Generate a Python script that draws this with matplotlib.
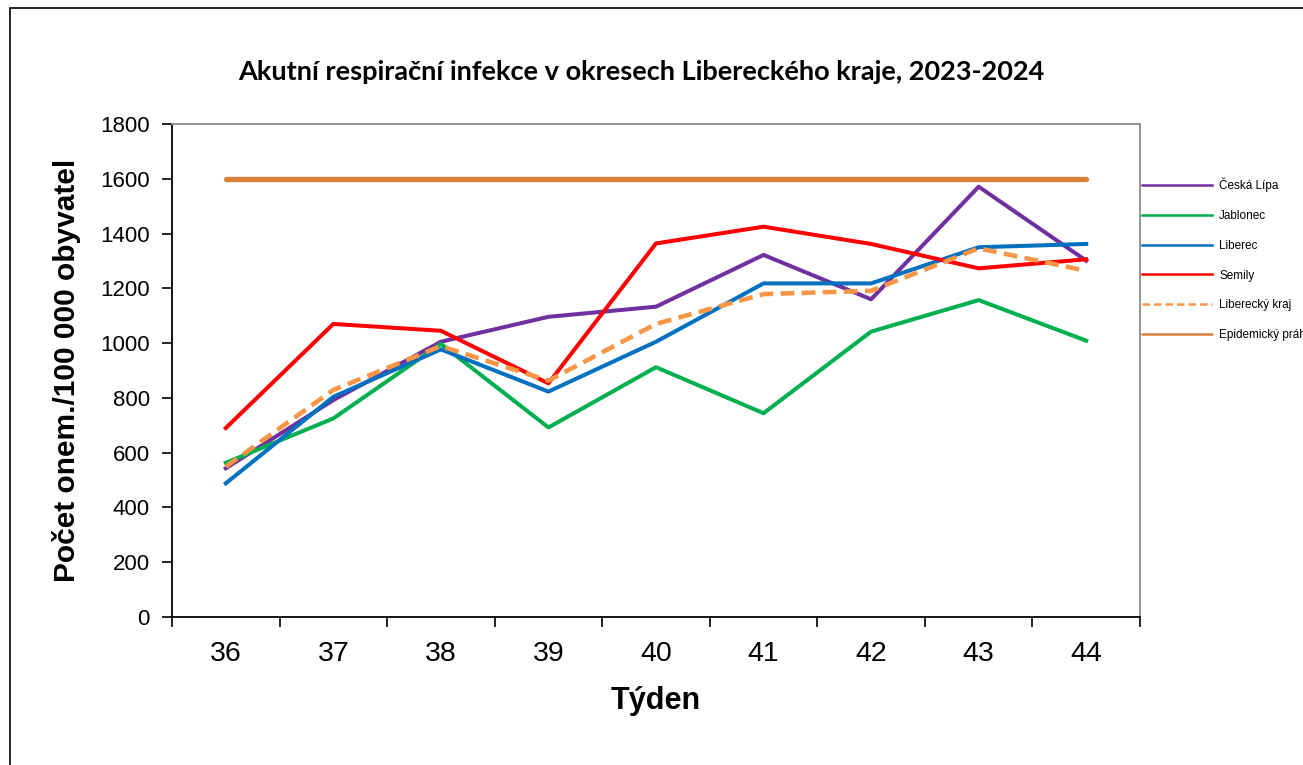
import matplotlib.pyplot as plt
from matplotlib.patches import Rectangle

weeks = ['36', '37', '38', '39', '40', '41', '42', '43', '44']
ceska_lipa = [543, 792, 1005, 1096, 1133, 1322, 1160, 1571, 1301]
jablonec = [563, 725, 997, 692, 912, 744, 1042, 1157, 1009]
liberec = [488, 804, 977, 823, 1005, 1218, 1218, 1350, 1362]
semily = [690, 1070, 1045, 853, 1364, 1425, 1362, 1273, 1306]
liberecky_kraj = [549, 829, 989, 863, 1070, 1179, 1191, 1346, 1264]
epid_prah = [1600] * len(weeks)

W, H = 1303, 765
fig = plt.figure(figsize=(W / 100, H / 100), dpi=100)
fig.patch.set_facecolor('white')

# outer frame of the exported chart
fig.patches.append(Rectangle((10 / W, -0.1), 1.2, 1.1 - 8 / H, transform=fig.transFigure,
                             fill=False, edgecolor='black', linewidth=1.2))

ax = fig.add_axes([172 / W, 1 - 617 / H, (1140 - 172) / W, (617 - 124) / H])
x = list(range(len(weeks)))

lw = 2.9
l_ep, = ax.plot(x, epid_prah, color='#DB7F3A', lw=3.8, solid_capstyle='round', label='Epidemický práh', zorder=2)
l_cl, = ax.plot(x, ceska_lipa, color='#7030A0', lw=lw, label='Česká Lípa', zorder=3)
l_jb, = ax.plot(x, jablonec, color='#00B050', lw=lw, label='Jablonec', zorder=3)
l_lb, = ax.plot(x, liberec, color='#0070C0', lw=lw, label='Liberec', zorder=3)
l_se, = ax.plot(x, semily, color='#FF0000', lw=lw, label='Semily', zorder=3)
l_lk, = ax.plot(x, liberecky_kraj, color='#F79646', lw=3.3, dashes=(3, 1.6), label='Liberecký kraj', zorder=4)

ax.set_xlim(-0.5, len(weeks) - 0.5)
ax.set_ylim(0, 1800)
ax.set_yticks(range(0, 1801, 200))
ax.set_xticks([i - 0.5 for i in range(len(weeks) + 1)])
ax.set_xticklabels([])
ax.set_xticks(x, minor=True)
ax.set_xticklabels(weeks, minor=True)
ax.tick_params(axis='x', which='major', length=7, width=1.2, direction='out')
ax.tick_params(axis='x', which='minor', length=0, pad=17, labelsize=20.5)
ax.tick_params(axis='y', length=7, width=1.2, direction='out', pad=9, labelsize=16)
for lab in ax.get_xticklabels(minor=True) + ax.get_yticklabels():
    lab.set_family('Liberation Sans')

for s in ['left', 'bottom']:
    ax.spines[s].set_color('black')
    ax.spines[s].set_linewidth(1.3)
for s in ['top', 'right']:
    ax.spines[s].set_color('#8C8C8C')
    ax.spines[s].set_linewidth(1.3)

ax.set_ylabel('Počet onem./100 000 obyvatel', family='Liberation Sans', fontsize=21.5,
              fontweight='bold', labelpad=14)
ax.set_xlabel('Týden', family='Liberation Sans', fontsize=22, fontweight='bold', labelpad=14)

fig.text(641 / W, 1 - 72 / H, 'Akutní respirační infekce v okresech Libereckého kraje, 2023-2024',
         ha='center', va='center', family='Lato', fontsize=19.5, fontweight='bold')

leg = fig.legend(handles=[l_cl, l_jb, l_lb, l_se, l_lk, l_ep], loc='upper left',
                 bbox_to_anchor=(1142 / W, 1 - 178 / H), frameon=False, borderpad=0, borderaxespad=0,
                 handlelength=5.9, handletextpad=0.65, labelspacing=1.5,
                 prop={'family': 'Liberation Sans', 'size': 8.5})
for ln in leg.get_lines():
    ln.set_linewidth(1.8)

fig.savefig('out.png', dpi=100)
